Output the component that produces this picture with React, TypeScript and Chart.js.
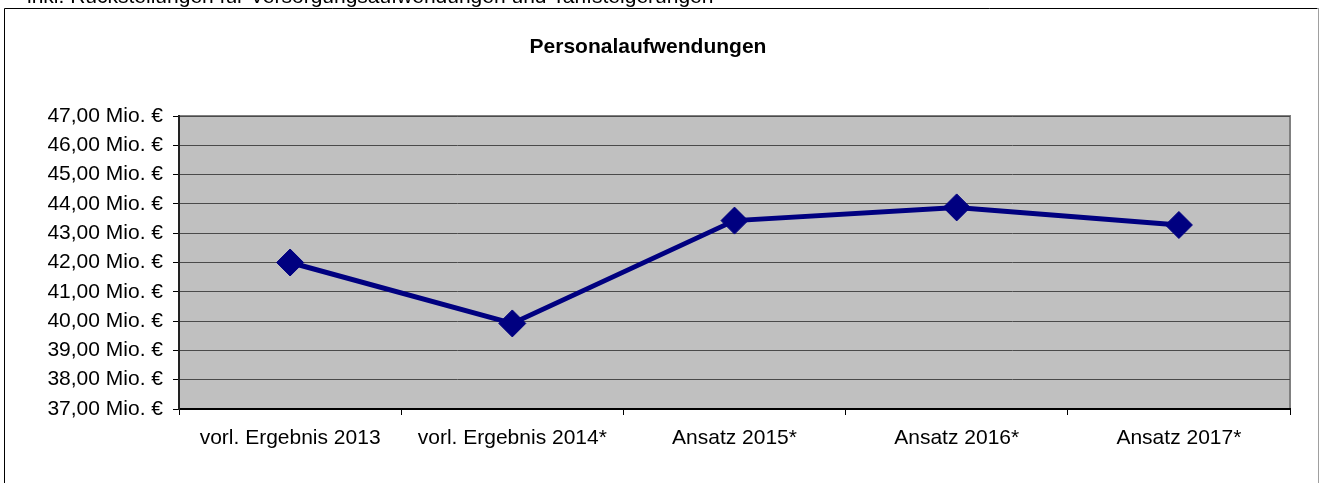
import React, { useEffect, useRef } from "react";
import { Chart, registerables } from "chart.js";

Chart.register(...registerables);

const categories = [
  "vorl. Ergebnis 2013",
  "vorl. Ergebnis 2014*",
  "Ansatz 2015*",
  "Ansatz 2016*",
  "Ansatz 2017*",
];
const personalaufwendungen = [42.0, 39.92, 43.43, 43.88, 43.28];
const yMin = 37;
const yMax = 47;
const yStep = 1;
const yUnit = " Mio. €";
const chartTitle = "Personalaufwendungen";
const noteText = "inkl. Rückstellungen für Versorgungsaufwendungen und Tarifsteigerungen";

const FONT = "'Liberation Sans', Arial, sans-serif";

const framePlugin = {
  id: "frame",
  beforeDraw(chart: any) {
    const { ctx, chartArea } = chart;
    const { left, top, right, bottom } = chartArea;
    ctx.save();
    // outer frame
    ctx.strokeStyle = "#000";
    ctx.lineWidth = 1;
    ctx.beginPath();
    ctx.moveTo(4.5, 490);
    ctx.lineTo(4.5, 8.5);
    ctx.lineTo(1317.5, 8.5);
    ctx.stroke();
    ctx.strokeStyle = "#a0a0a0";
    ctx.beginPath();
    ctx.moveTo(1318.5, 8);
    ctx.lineTo(1318.5, 490);
    ctx.stroke();
    // plot background
    ctx.fillStyle = "#c0c0c0";
    ctx.fillRect(left, top, right - left, bottom - top);
    ctx.strokeStyle = "#808080";
    ctx.lineWidth = 2;
    ctx.strokeRect(left, top, right - left, bottom - top);
    // texts
    ctx.fillStyle = "#000";
    ctx.textBaseline = "alphabetic";
    ctx.textAlign = "left";
    ctx.font = `21px ${FONT}`;
    ctx.fillText(noteText, 27, 3);
    ctx.textAlign = "center";
    ctx.font = `bold 21px ${FONT}`;
    ctx.fillText(chartTitle, 648, 53);
    ctx.restore();
  },
};

export default function App() {
  const ref = useRef<HTMLCanvasElement | null>(null);
  useEffect(() => {
    if (!ref.current) return;
    const chart = new Chart(ref.current, {
      type: "line",
      data: {
        labels: categories,
        datasets: [
          {
            label: chartTitle,
            data: personalaufwendungen,
            borderColor: "#000080",
            backgroundColor: "#000080",
            borderWidth: 5,
            pointStyle: "rectRot",
            pointRadius: 13.5,
            pointHoverRadius: 13.5,
            pointBorderWidth: 1,
            pointBorderColor: "#000080",
            pointBackgroundColor: "#000080",
            tension: 0,
            clip: false as any,
          },
        ],
      },
      options: {
        animation: false,
        responsive: false,
        maintainAspectRatio: false,
        layout: { padding: { left: 0, top: 116, right: 29, bottom: 0 } },
        plugins: {
          legend: { display: false },
          title: { display: false },
          tooltip: { enabled: false },
        },
        scales: {
          x: {
            offset: true,
            grid: {
              offset: true,
              drawOnChartArea: false,
              drawTicks: true,
              tickLength: 6,
              color: "#000",
            },
            border: { display: true, color: "#000", width: 2 },
            ticks: {
              color: "#000",
              font: { family: FONT, size: 21 },
              padding: 11,
              maxRotation: 0,
              autoSkip: false,
            },
            afterFit(scale: any) {
              scale.height = 74;
            },
          },
          y: {
            min: yMin,
            max: yMax,
            grid: {
              color: "#4a4a4a",
              lineWidth: 1,
              drawTicks: true,
              tickLength: 6,
              tickColor: "#000",
            },
            border: { display: true, color: "#222", width: 2 },
            ticks: {
              stepSize: yStep,
              color: "#000",
              font: { family: FONT, size: 21 },
              padding: 10,
              callback: (v: any) => Number(v).toFixed(2).replace(".", ",") + yUnit,
            },
            afterFit(scale: any) {
              scale.width = 179;
            },
          },
        },
      },
      plugins: [framePlugin],
    });
    return () => chart.destroy();
  }, []);
  return (
    <div style={{ position: "fixed", left: 0, top: 0, width: 1319, height: 483, background: "#fff" }}>
      <canvas ref={ref} width={1319} height={483} style={{ width: 1319, height: 483, display: "block" }} />
    </div>
  );
}
